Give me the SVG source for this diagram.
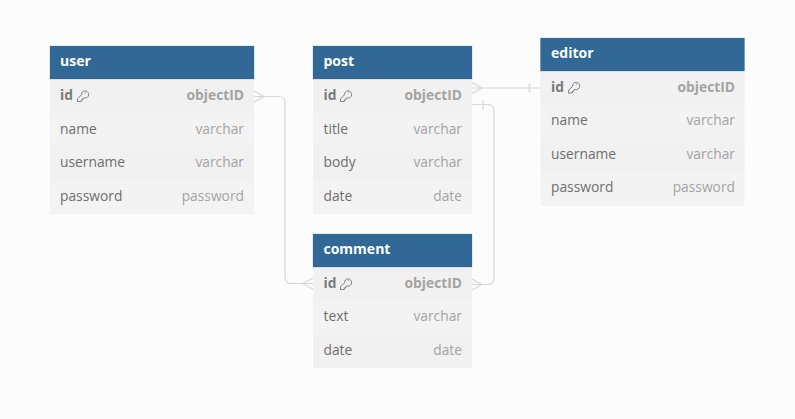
<svg xmlns="http://www.w3.org/2000/svg" width="795" height="419" viewBox="0 0 795 419">
<style>
text{font-family:"Open Sans","Noto Sans",sans-serif;font-size:13.8px}
.h{fill:#316896;stroke:#316896;stroke-opacity:.5;stroke-width:.5}
.b{fill:#f3f3f3}
.a{fill:#f1f1f1}
.t{fill:#fff;font-weight:700;font-size:14px}
.n{fill:#6e6e6e}
.k{fill:#7a7a7a;font-weight:700}
.y{fill:#a3a3a3;text-anchor:end}
.ky{fill:#a3a3a3;text-anchor:end;font-weight:700}
.c{fill:none;stroke:#d6d6d6;stroke-width:1.2}
.c2{fill:none;stroke:#e0e0e0;stroke-width:1.6}
.key{fill:none;stroke:#808080;stroke-width:1}
</style>
<defs>
<path id="key" class="key" d="M0.500 11.500 L0.500 8.800 L4.500 4.800 A3.600 3.600 0 1 1 7.300 8 L6 8.200 L6 9.800 L4.400 9.800 L4.400 11.500 Z M8 2.800 h.9"/>
</defs>
<rect width="795" height="419" fill="#fcfcfc"/>
<g id="connectors">
<path class="c" d="M254 96.500 H279 Q285 96.500 285 102.500 V277 Q285 283.500 291 283.500 H313"/>
<path class="c" d="M254 91 L264 96.500 L254 102 M313 278 L303 283.500 L313 289"/>
<path class="c2" d="M472 88 H541"/>
<path class="c2" d="M472 82.500 L482 88 L472 93.500 M529.500 83 V93"/>
<path class="c" d="M472 104.500 H487 Q494 104.500 494 111.500 V278 Q494 284.500 488 284.500 H472"/>
<path class="c" d="M483 100 V110 M472 279 L482 284.500 L472 290"/>
</g>
<g id="user">
<rect class="b" x="50" y="79" width="204" height="135"/>
<rect class="a" x="50" y="79" width="204" height="34"/>
<rect class="a" x="50" y="146" width="204" height="34"/>
<rect class="h" x="50" y="46" width="204" height="33"/>
<text class="t" x="60" y="66">user</text>
<text class="k" x="60" y="100">id</text><use href="#key" x="77" y="90"/>
<text class="ky" x="244" y="100">objectID</text>
<text class="n" x="60" y="134">name</text><text class="y" x="244" y="134">varchar</text>
<text class="n" x="60" y="167">username</text><text class="y" x="244" y="167">varchar</text>
<text class="n" x="60" y="201">password</text><text class="y" x="244" y="201">password</text>
</g>
<g id="post">
<rect class="b" x="313" y="79" width="159" height="135"/>
<rect class="a" x="313" y="79" width="159" height="34"/>
<rect class="a" x="313" y="146" width="159" height="34"/>
<rect class="h" x="313" y="46" width="159" height="33"/>
<text class="t" x="323.500" y="66">post</text>
<text class="k" x="323.500" y="100">id</text><use href="#key" x="340" y="90"/>
<text class="ky" x="462" y="100">objectID</text>
<text class="n" x="323.500" y="134">title</text><text class="y" x="462" y="134">varchar</text>
<text class="n" x="323.500" y="167">body</text><text class="y" x="462" y="167">varchar</text>
<text class="n" x="323.500" y="201">date</text><text class="y" x="462" y="201">date</text>
</g>
<g id="comment">
<rect class="b" x="313" y="267" width="159" height="101"/>
<rect class="a" x="313" y="267" width="159" height="34"/>
<rect class="a" x="313" y="334" width="159" height="34"/>
<rect class="h" x="313" y="234" width="159" height="33"/>
<text class="t" x="323.500" y="254">comment</text>
<text class="k" x="323.500" y="288">id</text><use href="#key" x="340" y="278"/>
<text class="ky" x="462" y="288">objectID</text>
<text class="n" x="323.500" y="321">text</text><text class="y" x="462" y="321">varchar</text>
<text class="n" x="323.500" y="355">date</text><text class="y" x="462" y="355">date</text>
</g>
<g id="editor">
<rect class="b" x="540.500" y="71" width="204" height="135"/>
<rect class="a" x="540.500" y="71" width="204" height="34"/>
<rect class="a" x="540.500" y="138" width="204" height="34"/>
<rect class="h" x="540.500" y="38" width="204" height="33"/>
<text class="t" x="551" y="58">editor</text>
<text class="k" x="551" y="92">id</text><use href="#key" x="568" y="81.500"/>
<text class="ky" x="735" y="92">objectID</text>
<text class="n" x="551" y="125">name</text><text class="y" x="735" y="125">varchar</text>
<text class="n" x="551" y="159">username</text><text class="y" x="735" y="159">varchar</text>
<text class="n" x="551" y="192">password</text><text class="y" x="735" y="192">password</text>
</g>
</svg>
